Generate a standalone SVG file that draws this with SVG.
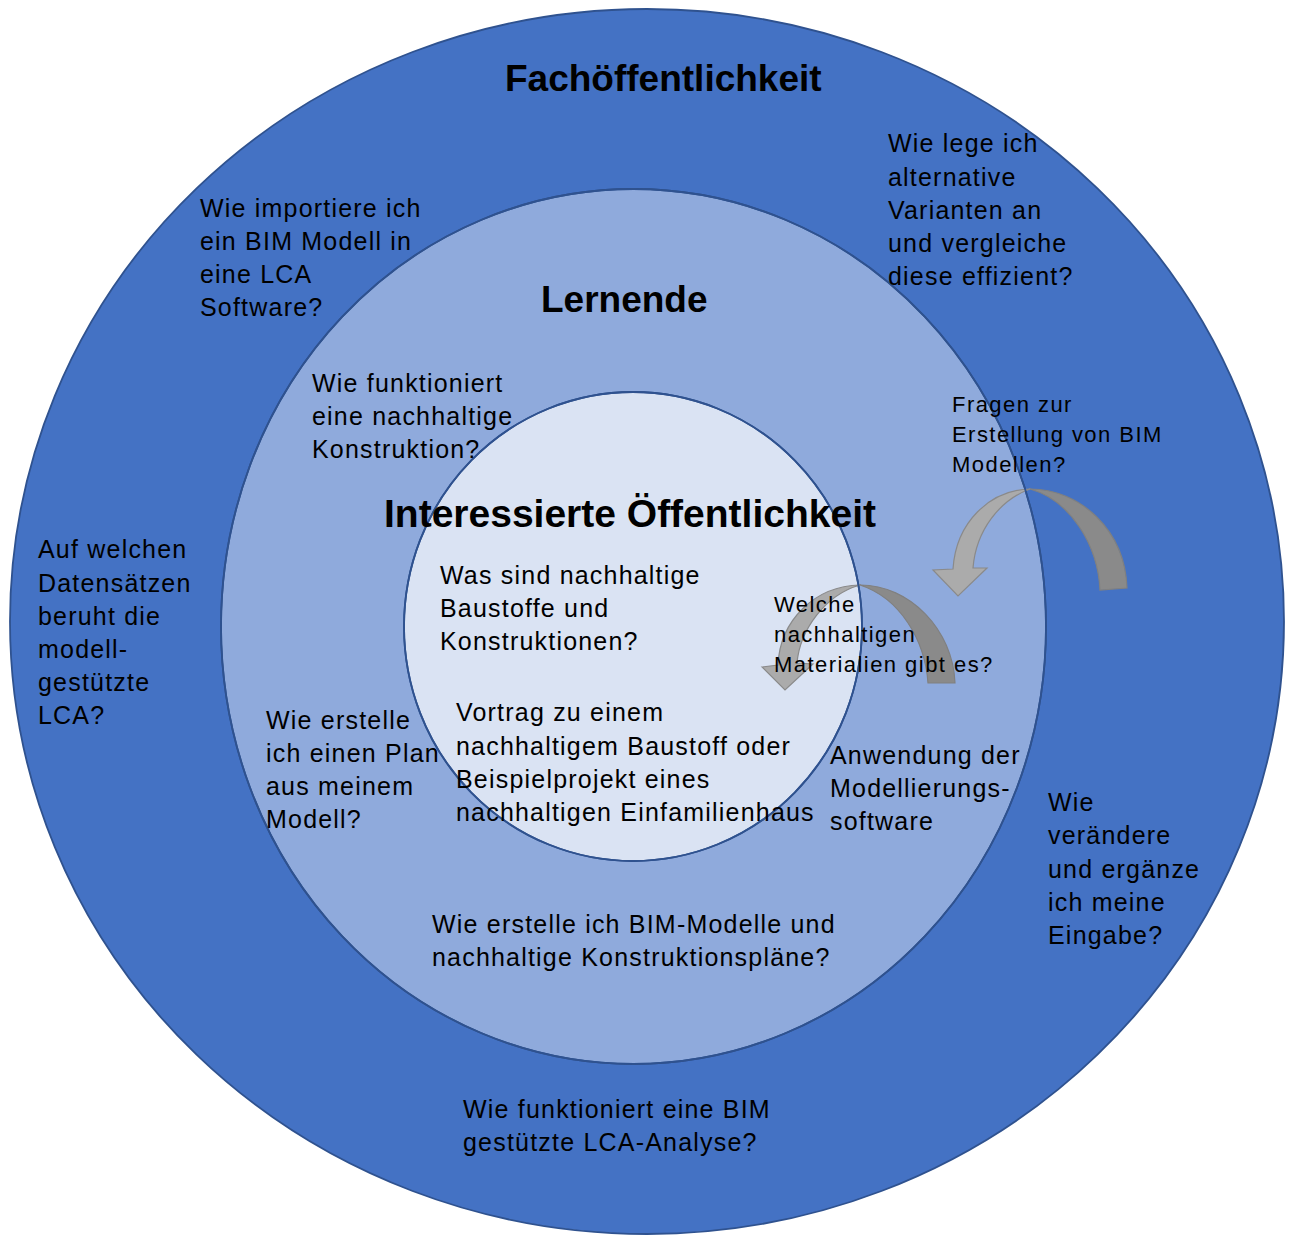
<svg xmlns="http://www.w3.org/2000/svg" width="1290" height="1236" viewBox="0 0 1290 1236">
<style>
text{font-family:"Liberation Sans",Arial,sans-serif;fill:#000}
.t{font-size:25px;letter-spacing:1.2px}
.s{font-size:22px;letter-spacing:1.45px}
.h{font-size:37px;font-weight:bold}
.hb{font-size:39px;font-weight:bold}
.ring{stroke:#2F528F;stroke-width:1.8}
.ol{fill:none;stroke:#2F528F;stroke-width:1.8}
.al{fill:#ABABAB;stroke:#8A8A8A;stroke-width:1.2}
.ad{fill:#8A8A8A;stroke:#808080;stroke-width:1.2}
</style>
<rect width="1290" height="1236" fill="#fff"/>
<g id="ring-fach">
<ellipse class="ring" cx="647" cy="621.5" rx="637" ry="612.5" fill="#4472C4"/>
</g>
<g id="ring-lernende">
<ellipse class="ring" cx="633.5" cy="626.5" rx="412.5" ry="437.5" fill="#8FAADC"/>
</g>
<g id="ring-interessierte">
<ellipse class="ring" cx="633" cy="626.5" rx="229" ry="234.5" fill="#DAE3F3"/>
</g>
<g id="connectors">
<path class="al" d="M1030,489 C990,490 956,522 953,569 L933,570 L958,596 L987,568 L973,568 C976,530 1000,500 1030,489 Z"/>
<path class="ad" d="M1030,489 C1080,489 1125,530 1127,588 L1100,590 C1098,545 1070,500 1030,489 Z"/>
<path class="al" d="M860,585 C815,586 780,620 778,665 L762,667 L785,690 L813,664 L797,663 C800,630 825,595 860,585 Z"/>
<path class="ad" d="M860,585 C910,585 953,630 955,683 L928,683 C925,640 900,598 860,585 Z"/>
</g>
<g id="outlines">
<ellipse class="ol" cx="633.5" cy="626.5" rx="412.5" ry="437.5"/>
<ellipse class="ol" cx="633" cy="626.5" rx="229" ry="234.5"/>
</g>
<g id="label-fach"><text class="h" x="505" y="91">Fachöffentlichkeit</text></g>
<g id="label-lernende"><text class="h" x="541" y="312">Lernende</text></g>
<g id="label-interessierte"><text class="hb" x="384" y="527">Interessierte Öffentlichkeit</text></g>
<g id="q-import"><text class="t"><tspan x="200" y="217">Wie importiere ich</tspan><tspan x="200" y="250">ein BIM Modell in</tspan><tspan x="200" y="283">eine LCA</tspan><tspan x="200" y="316">Software?</tspan></text></g>
<g id="q-varianten"><text class="t"><tspan x="888" y="152">Wie lege ich</tspan><tspan x="888" y="185.5">alternative</tspan><tspan x="888" y="219">Varianten an</tspan><tspan x="888" y="252">und vergleiche</tspan><tspan x="888" y="285">diese effizient?</tspan></text></g>
<g id="q-konstruktion"><text class="t"><tspan x="312" y="392">Wie funktioniert</tspan><tspan x="312" y="425">eine nachhaltige</tspan><tspan x="312" y="458">Konstruktion?</tspan></text></g>
<g id="q-bim-fragen"><text class="s"><tspan x="952" y="411.5">Fragen zur</tspan><tspan x="952" y="441.5">Erstellung von BIM</tspan><tspan x="952" y="471.5">Modellen?</tspan></text></g>
<g id="q-datensaetze"><text class="t"><tspan x="38" y="558">Auf welchen</tspan><tspan x="38" y="591.5">Datensätzen</tspan><tspan x="38" y="625">beruht die</tspan><tspan x="38" y="658">modell-</tspan><tspan x="38" y="691">gestützte</tspan><tspan x="38" y="724">LCA?</tspan></text></g>
<g id="q-baustoffe"><text class="t"><tspan x="440" y="584">Was sind nachhaltige</tspan><tspan x="440" y="617">Baustoffe und</tspan><tspan x="440" y="650">Konstruktionen?</tspan></text></g>
<g id="q-materialien"><text class="s"><tspan x="774" y="612">Welche</tspan><tspan x="774" y="642">nachhaltigen</tspan><tspan x="774" y="672">Materialien gibt es?</tspan></text></g>
<g id="q-plan"><text class="t"><tspan x="266" y="729">Wie erstelle</tspan><tspan x="266" y="762">ich einen Plan</tspan><tspan x="266" y="795">aus meinem</tspan><tspan x="266" y="828">Modell?</tspan></text></g>
<g id="q-vortrag"><text class="t"><tspan x="456" y="721">Vortrag zu einem</tspan><tspan x="456" y="755">nachhaltigem Baustoff oder</tspan><tspan x="456" y="788">Beispielprojekt eines</tspan><tspan x="456" y="821">nachhaltigen Einfamilienhaus</tspan></text></g>
<g id="q-anwendung"><text class="t"><tspan x="830" y="764">Anwendung der</tspan><tspan x="830" y="797">Modellierungs-</tspan><tspan x="830" y="830">software</tspan></text></g>
<g id="q-eingabe"><text class="t"><tspan x="1048" y="811">Wie</tspan><tspan x="1048" y="844">verändere</tspan><tspan x="1048" y="877.5">und ergänze</tspan><tspan x="1048" y="910.5">ich meine</tspan><tspan x="1048" y="943.5">Eingabe?</tspan></text></g>
<g id="q-bim-modelle"><text class="t"><tspan x="432" y="933">Wie erstelle ich BIM-Modelle und</tspan><tspan x="432" y="966">nachhaltige Konstruktionspläne?</tspan></text></g>
<g id="q-lca-analyse"><text class="t"><tspan x="463" y="1118">Wie funktioniert eine BIM</tspan><tspan x="463" y="1151">gestützte LCA-Analyse?</tspan></text></g>
</svg>
